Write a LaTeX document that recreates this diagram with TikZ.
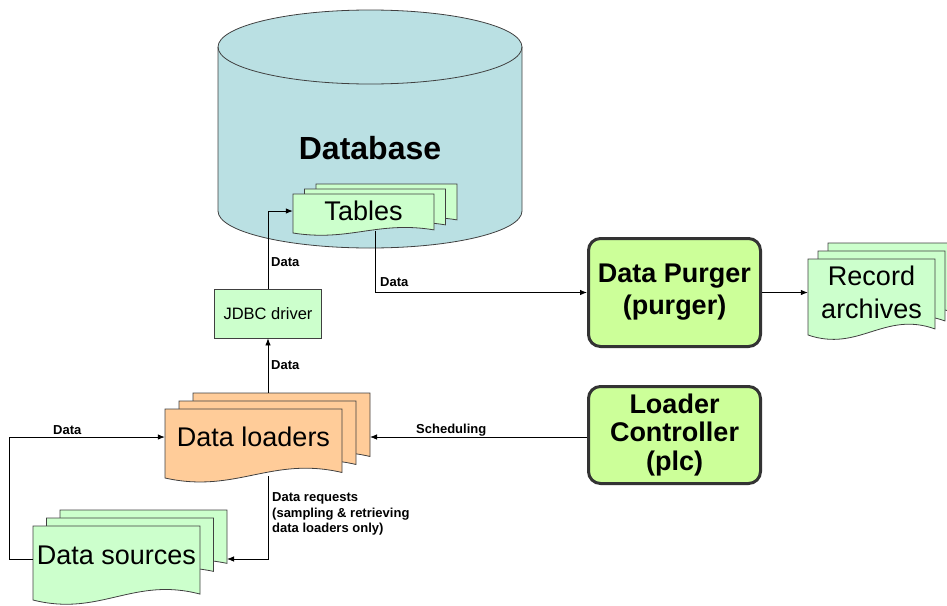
\documentclass[tikz,border=0pt]{standalone}
\usepackage{fontspec}
\setmainfont{Liberation Sans}
\usetikzlibrary{arrows.meta}
\definecolor{dbblue}{RGB}{186,224,227}
\definecolor{pagegreen}{RGB}{204,255,204}
\definecolor{pageorange}{RGB}{255,204,153}
\definecolor{boxlime}{RGB}{204,255,153}
\definecolor{edgegray}{RGB}{64,64,64}

\tikzset{
pics/docstack/.style args={#1/#2/#3/#4/#5}{
code={
\foreach \k/\hh in {2/#3,1/#3,0/#2} {
\path[pic actions,draw=edgegray,line width=.8pt,shift={(\k*#4,\k*#5)}]
(0,0) -- (#1,0) -- (#1,.92*\hh)
.. controls (.6*#1,.68*\hh) and (.4*#1,1.23*\hh) .. (0,\hh) -- cycle;
}
}},
doctext/.style={inner sep=0pt,font=\fontsize{27}{33}\selectfont,align=center},
procbox/.style={draw=black!80,fill=boxlime,line width=3pt,rounded corners=12pt,
inner sep=0pt,align=center,font=\bfseries\fontsize{27}{32}\selectfont},
plainbox/.style={draw=edgegray,fill=pagegreen,line width=.8pt,inner sep=0pt,
font=\fontsize{16.5}{20}\selectfont},
lbl/.style={inner sep=0pt,font=\bfseries\fontsize{13}{15.5}\selectfont},
flow/.style={draw=black,line width=.8pt,-{Latex[length=7pt,width=5.5pt]}},
}

\begin{document}
\begin{tikzpicture}[x=1pt,y=-1pt]
\useasboundingbox (0,0) rectangle (947,605);
\clip (0,0) rectangle (947,605);

\path[draw=edgegray,fill=dbblue,line width=.8pt] (218,47) -- (218,211)
arc[start angle=180,end angle=360,x radius=152pt,y radius=37pt] -- (522,47)
arc[start angle=0,end angle=180,x radius=152pt,y radius=37pt] -- cycle;
\draw[edgegray,line width=.8pt] (218,47)
arc[start angle=180,end angle=360,x radius=152pt,y radius=37pt];
\node[font=\bfseries\fontsize{32}{38}\selectfont] (db) at (370,148) {Database};

\pic[fill=pagegreen] at (293,194) {docstack=141/39/39/11.5/-5};
\pic[fill=pageorange] at (165,409) {docstack=177/69/69/14/-8};
\pic[fill=pagegreen] at (33,526) {docstack=167/74/58/13.5/-8};
\pic[fill=pagegreen] at (808,259) {docstack=127/76/76/10/-8};

\node[doctext,minimum width=141pt] (tables) at (363.5,211) {Tables};
\node[doctext,minimum width=177pt] (loaders) at (253.5,437) {Data loaders};
\node[doctext,minimum width=167pt] (sources) at (116.5,555) {Data sources};
\node[doctext,minimum width=127pt] (archives) at (871.5,292.5) {Record\\archives};

\node[plainbox,minimum width=107pt,minimum height=49pt] (jdbc) at (268,313.5) {JDBC driver};
\node[procbox,minimum width=172pt,minimum height=108pt] (purger) at (674.5,292.5) {Data Purger\\(purger)};
\node[procbox,minimum width=172pt,minimum height=97pt,
font=\bfseries\fontsize{27}{28.5}\selectfont] (controller) at (674.5,435) {Loader\\Controller\\(plc)};

\coordinate (tables-foot) at (375,231);
\coordinate (loaders-top) at (268,393);
\coordinate (loaders-foot) at (268,476);
\coordinate (loaders-rear) at (370,437);
\coordinate (sources-front) at (33,559);
\coordinate (sources-rear) at (227,559);

\draw[flow] (jdbc.north) |- (tables.west);
\draw[flow] (tables-foot) |- (purger.west);
\draw[flow] (purger.east) -- (archives.west);
\draw[flow] (loaders-top) -- (jdbc.south);
\draw[flow] (controller.west |- loaders-rear) -- (loaders-rear);
\draw[flow] (sources-front) -- ++(-24,0) |- (loaders.west);
\draw[flow] (loaders-foot) |- (sources-rear);

\node[lbl,anchor=base west] (lbl-up) at (271,266) {Data};
\node[lbl,anchor=base west] (lbl-low) at (271,369) {Data};
\node[lbl,anchor=base west] (lbl-purge) at (380,286) {Data};
\node[lbl,anchor=base west] (lbl-sched) at (416,433) {Scheduling};
\node[lbl,anchor=base west] (lbl-src) at (53,434) {Data};
\node[lbl,anchor=north west,align=left] (lbl-req) at (272,492.5)
{Data requests\\(sampling \& retrieving\\data loaders only)};
\end{tikzpicture}
\end{document}
